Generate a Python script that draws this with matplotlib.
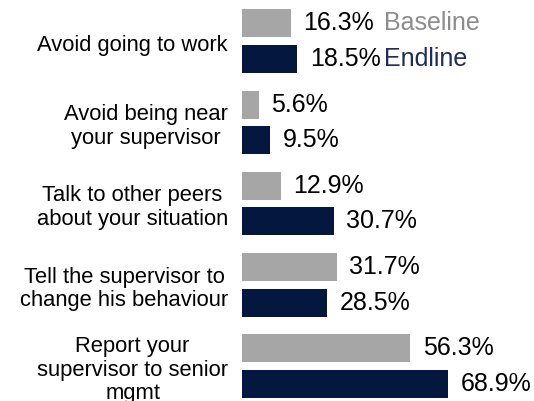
import numpy as np
import matplotlib.pyplot as plt

plt.rcParams['font.family'] = ['Liberation Sans', 'DejaVu Sans']

categories = ['Avoid going to work',
              'Avoid being near\nyour supervisor',
              'Talk to other peers\nabout your situation',
              'Tell the supervisor to\nchange his behaviour',
              'Report your\nsupervisor to senior\nmgmt']
baseline = [16.3, 5.6, 12.9, 31.7, 56.3]
endline = [18.5, 9.5, 30.7, 28.5, 68.9]

grey = '#A6A6A6'
navy = '#03173F'

fig = plt.figure(figsize=(5.34, 4.01), dpi=100)
ax = fig.add_axes([242 / 534, 0, 292 / 534, 1])

y = np.arange(len(categories))
off = 0.218
h = 0.345
ax.barh(y - off, baseline, height=h, color=grey)
ax.barh(y + off, endline, height=h, color=navy)

for i in range(len(categories)):
    ax.annotate(f'{baseline[i]}%', (baseline[i], y[i] - off), xytext=(9, 0),
                textcoords='offset points', va='center', ha='left', fontsize=18, color='black')
    ax.annotate(f'{endline[i]}%', (endline[i], y[i] + off), xytext=(9, 0),
                textcoords='offset points', va='center', ha='left', fontsize=18, color='black')
    # category labels sit to the left of the bars
    ax.annotate(categories[i], (0, y[i] + 0.05), xytext=(-10, 0), textcoords='offset points',
                va='center', ha='right', multialignment='center', fontsize=15.8,
                linespacing=1.15, annotation_clip=False)

# series names next to the first group
ax.text(47.6, y[0] - off, 'Baseline', va='center', ha='left', fontsize=18, color='#8C8C8C')
ax.text(47.6, y[0] + off, 'Endline', va='center', ha='left', fontsize=18, color='#1F2D5C')

ax.set_xlim(0, 97.6)
ax.set_ylim(4.43, -0.505)
ax.axis('off')

fig.savefig('out.png', dpi=100)
